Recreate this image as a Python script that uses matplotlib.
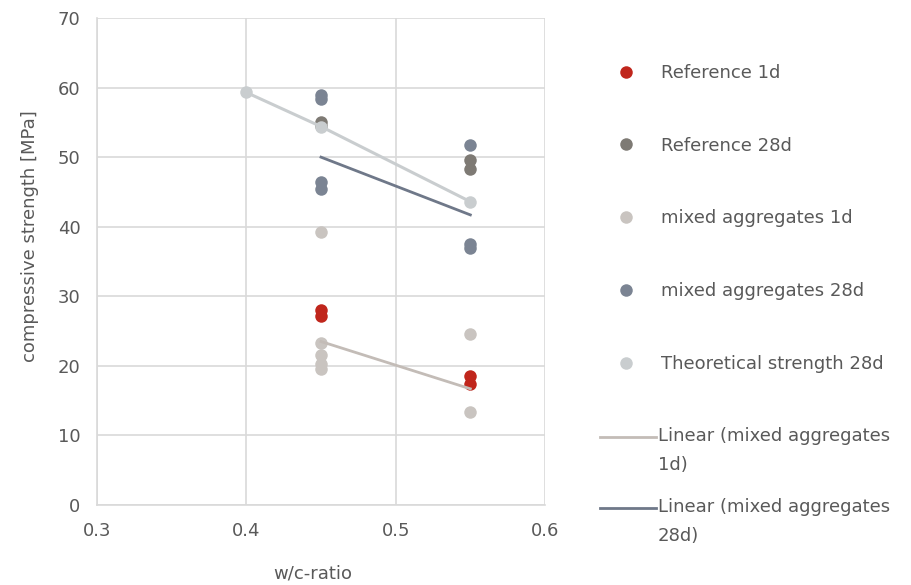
import matplotlib
matplotlib.use("Agg")
import matplotlib.pyplot as plt
from matplotlib.lines import Line2D

plt.rcParams['font.family'] = ['DejaVu Sans']

# ---- data ----
ref1d_x = [0.45, 0.45, 0.55, 0.55]
ref1d_y = [27.2, 28.0, 18.5, 17.4]
ref28d_x = [0.45, 0.45, 0.55, 0.55]
ref28d_y = [55.1, 54.5, 49.6, 48.3]
mix1d_x = [0.45, 0.45, 0.45, 0.45, 0.45, 0.55, 0.55]
mix1d_y = [39.3, 23.3, 21.5, 20.2, 19.5, 24.6, 13.3]
mix28d_x = [0.45, 0.45, 0.45, 0.45, 0.55, 0.55, 0.55]
mix28d_y = [58.9, 58.4, 46.4, 45.4, 51.7, 37.5, 37.0]
theo_x = [0.40, 0.45, 0.55]
theo_y = [59.3, 54.4, 43.6]
trend_x = [0.45, 0.55]
trend1d_y = [23.5, 16.7]
trend28d_y = [50.0, 41.7]

x_ticks = [0.3, 0.4, 0.5, 0.6]
y_ticks = [0, 10, 20, 30, 40, 50, 60, 70]

labels = ["Reference 1d", "Reference 28d", "mixed aggregates 1d",
          "mixed aggregates 28d", "Theoretical strength 28d",
          "Linear (mixed aggregates\n1d)", "Linear (mixed aggregates\n28d)"]

c_ref1d = "#C0261C"
c_ref28d = "#7E7A74"
c_mix1d = "#C9C4C0"
c_mix28d = "#7B8493"
c_theo = "#C9CDCF"
c_tr1d = "#C3BCB7"
c_tr28d = "#6F7889"
txt = "#595959"

W, H = 912, 585
fig = plt.figure(figsize=(W/100, H/100), dpi=100)
ax = fig.add_axes([97/W, 1-505/H, (545-97)/W, (505-18)/H])

ms = 9
ax.plot(ref1d_x, ref1d_y, 'o', color=c_ref1d, ms=ms, mec='none', zorder=3)
ax.plot(ref28d_x, ref28d_y, 'o', color=c_ref28d, ms=ms, mec='none', zorder=3)
ax.plot(mix1d_x, mix1d_y, 'o', color=c_mix1d, ms=ms, mec='none', zorder=3)
ax.plot(mix28d_x, mix28d_y, 'o', color=c_mix28d, ms=ms, mec='none', zorder=3)
ax.plot(theo_x, theo_y, '-', color=c_theo, lw=2.2, zorder=3)
ax.plot(theo_x, theo_y, 'o', color=c_theo, ms=ms, mec='none', zorder=3)
ax.plot(trend_x, trend1d_y, '-', color=c_tr1d, lw=2, zorder=4)
ax.plot(trend_x, trend28d_y, '-', color=c_tr28d, lw=2, zorder=4)

ax.set_xlim(0.3, 0.6)
ax.set_ylim(0, 70)
ax.set_xticks(x_ticks)
ax.set_yticks(y_ticks)
ax.set_xticklabels([f"{v:g}" for v in x_ticks])
ax.grid(True, color="#D9D9D9", lw=1.2)
ax.set_axisbelow(True)
for s in ['top', 'right']:
    ax.spines[s].set_visible(False)
for s in ['left', 'bottom']:
    ax.spines[s].set_color("#D9D9D9")
    ax.spines[s].set_linewidth(1.2)
ax.tick_params(length=0, labelsize=13, colors=txt, pad=12)
ax.set_ylabel("compressive strength [MPa]", fontsize=13, color=txt)
ax.yaxis.set_label_coords(-(97-30)/(545-97), (505-236)/(505-18))
ax.set_xlabel("w/c-ratio", fontsize=13, color=txt)
ax.xaxis.set_label_coords((313-97)/(545-97), -(573-505)/(505-18))
ax.xaxis.label.set_va('center')
ax.yaxis.label.set_va('center')

# legend: marker entries
h1 = [Line2D([], [], ls='none', marker='o', ms=9, mec='none', color=c)
      for c in [c_ref1d, c_ref28d, c_mix1d, c_mix28d, c_theo]]
leg1 = fig.legend(h1, labels[:5], loc='upper left',
                  bbox_to_anchor=(599/W, 1-55/H), frameon=False,
                  fontsize=13, labelcolor=txt, labelspacing=3.03,
                  handlelength=2.0, handletextpad=0.94, borderpad=0)

# legend: trendline entries (handle aligned with first text line, Excel-style)
for lab, col, yc in [(labels[5], c_tr1d, 437), (labels[6], c_tr28d, 508)]:
    fig.add_artist(Line2D([600/W, 656/W], [1-yc/H, 1-yc/H], color=col, lw=2,
                          transform=fig.transFigure))
    fig.text(658/W, 1-(yc-10)/H, lab, fontsize=13, color=txt, va='top',
             ha='left', linespacing=1.8)

fig.savefig("out.png", dpi=100, facecolor='white')
